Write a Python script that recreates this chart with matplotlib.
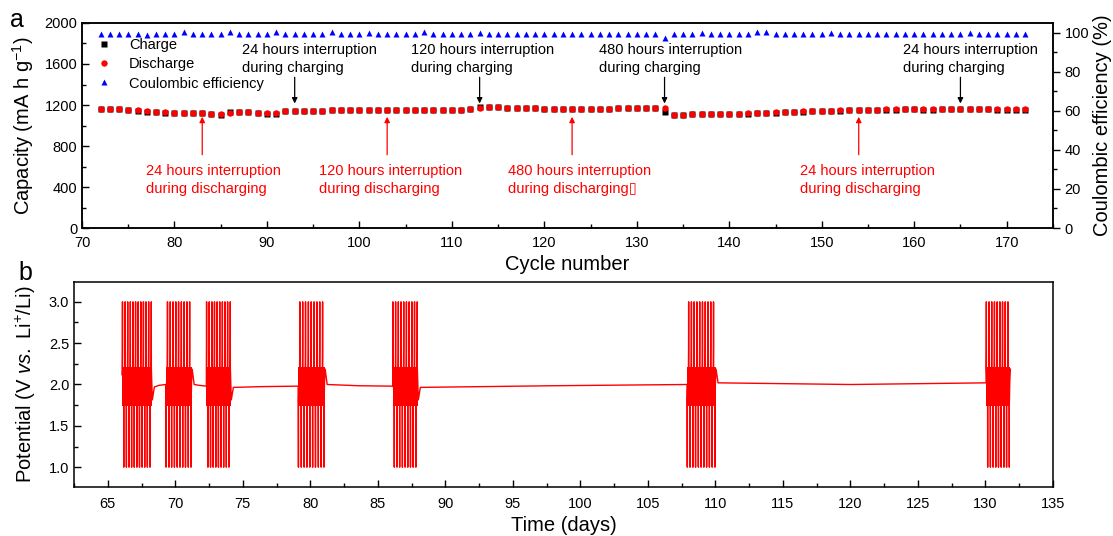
import numpy as np
import matplotlib
matplotlib.use('Agg')
import matplotlib.pyplot as plt
from matplotlib.ticker import MultipleLocator, FormatStrFormatter
from matplotlib.patches import Rectangle

plt.rcParams['font.family'] = ['Liberation Sans', 'DejaVu Sans']
plt.rcParams['mathtext.fontset'] = 'custom'
plt.rcParams['mathtext.rm'] = 'Liberation Sans'
plt.rcParams['mathtext.it'] = 'Liberation Sans:italic'

# ---------------- panel a data ----------------
cycles = np.arange(72, 173)
discharge = [1160, 1165, 1162, 1150, 1148, 1138, 1135, 1128, 1122, 1122, 1122, 1122, 1112, 1108,
             1125, 1132, 1130, 1125, 1118, 1118, 1140,
             1140, 1140, 1142, 1145, 1150, 1150, 1150, 1152, 1152, 1152,
             1150, 1150, 1150, 1152, 1152, 1150, 1152, 1152, 1155, 1160,
             1175, 1178, 1178, 1175, 1172, 1168, 1168, 1165, 1165, 1165,
             1162, 1162, 1162, 1165, 1165, 1168, 1168, 1168, 1170, 1172, 1168,
             1105, 1105, 1110, 1112, 1112, 1115, 1112, 1115, 1118,
             1122, 1125, 1128, 1130, 1135, 1138, 1140, 1142, 1145, 1148,
             1150, 1150, 1152, 1155, 1158, 1160, 1162, 1162, 1158, 1158,
             1160, 1162, 1165, 1162, 1160, 1160, 1158, 1158, 1158, 1158]
charge = [1158, 1163, 1160, 1148, 1146, 1130, 1133, 1126, 1120, 1120, 1120, 1120, 1110, 1106,
          1130, 1130, 1128, 1123, 1116, 1116, 1138,
          1138, 1138, 1140, 1143, 1148, 1148, 1148, 1150, 1150, 1150,
          1148, 1148, 1148, 1150, 1150, 1148, 1150, 1150, 1153, 1158,
          1182, 1176, 1176, 1173, 1170, 1166, 1166, 1163, 1163, 1163,
          1160, 1160, 1160, 1163, 1163, 1166, 1166, 1166, 1168, 1170, 1130,
          1103, 1103, 1108, 1110, 1110, 1113, 1110, 1113, 1116,
          1120, 1123, 1126, 1128, 1133, 1136, 1138, 1140, 1143, 1146,
          1148, 1148, 1150, 1153, 1156, 1150, 1160, 1160, 1156, 1156,
          1158, 1160, 1163, 1160, 1158, 1158, 1156, 1156, 1156, 1156]
coulombic = [99.3, 99.6, 99.5, 99.6, 99.6, 99.1, 99.5, 99.6, 99.5, 100.2, 99.6, 99.6, 99.5, 99.6,
             100.2, 99.6, 99.6, 99.6, 99.5, 100.2, 99.6,
             99.6, 99.6, 99.6, 99.6, 100.2, 99.6, 99.6, 99.5, 100.1, 99.6,
             99.3, 99.6, 99.6, 99.6, 100.2, 99.6, 99.6, 99.6, 99.3, 99.6,
             100.1, 99.6, 99.6, 99.6, 99.6, 99.3, 99.6, 99.6, 99.6, 99.6,
             99.6, 99.6, 99.6, 99.6, 99.6, 99.6, 99.6, 99.6, 99.6, 99.6, 97.4,
             99.2, 99.6, 99.6, 100.0, 99.6, 99.6, 99.6, 99.6, 99.6,
             100.2, 100.4, 99.3, 99.6, 99.6, 99.6, 99.6, 99.6, 100.1, 99.6,
             99.6, 99.6, 99.6, 99.6, 99.6, 99.6, 99.6, 99.6, 99.6, 99.6,
             99.2, 99.6, 99.6, 100.1, 99.6, 99.6, 99.6, 99.6, 99.6, 99.6]

charge_notes = ["24 hours interruption\nduring charging", "120 hours interruption\nduring charging",
                "480 hours interruption\nduring charging", "24 hours interruption\nduring charging"]
charge_note_cycle = [93, 113, 133, 165]
charge_note_textx = [87.3, 105.6, 125.9, 158.8]
discharge_notes = ["24 hours interruption\nduring discharging", "120 hours interruption\nduring discharging",
                   "480 hours interruption\nduring discharging\u25af", "24 hours interruption\nduring discharging"]
discharge_note_cycle = [83, 103, 123, 154]
discharge_note_textx = [76.9, 95.6, 116.1, 147.7]

# ---------------- panel b data ----------------
# one charge/discharge cycle (fraction of cycle, volts)
shape_phase = [0.00, 0.01, 0.20, 0.42, 0.47, 0.50, 0.53, 0.75, 0.97, 1.00]
shape_volt = [1.00, 1.75, 2.05, 2.20, 2.45, 3.00, 2.20, 1.95, 1.75, 1.00]
# cycling blocks (days) and the cycle phase where each starts / stops
block_start = [66.05, 69.30, 72.30, 79.10, 86.10, 107.90, 130.05]
block_end = [68.30, 71.25, 74.15, 81.10, 88.00, 110.05, 131.85]
block_phase0 = [0.3, 0.9, 0.4, 0.9, 0.4, 0.9, 0.4]
block_phase1 = [11.9, 10.4, 9.9, 10.4, 9.9, 11.4, 9.4]
# open-circuit rest between blocks (start, middle, end volts)
rest_volt = [[1.97, 1.99, 2.00], [2.00, 1.99, 1.98], [1.965, 1.975, 1.98],
             [2.00, 1.985, 1.98], [1.965, 1.985, 2.00], [2.02, 2.00, 2.02]]


def block_trace(i):
    p0, p1 = block_phase0[i], block_phase1[i]
    ph = [p0]
    for k in range(int(np.floor(p0)), int(np.ceil(p1)) + 1):
        for s in shape_phase:
            if p0 < k + s < p1:
                ph.append(k + s)
    ph.append(p1)
    ph = np.array(ph)
    frac = ph - np.floor(ph)
    v = np.interp(frac, shape_phase, shape_volt)
    t = block_start[i] + (ph - p0) / (p1 - p0) * (block_end[i] - block_start[i])
    return t, v


def build_potential():
    t_all, v_all = [], []
    for i in range(len(block_start)):
        t, v = block_trace(i)
        t_all.extend(t)
        v_all.extend(v)
        if i < len(rest_volt):
            t0 = block_end[i]
            t1 = block_start[i + 1]
            t_all.extend([t0 + 0.15, (t0 + t1) / 2, t1])
            v_all.extend(rest_volt[i])
    return np.array(t_all), np.array(v_all)


fig = plt.figure(figsize=(11.13, 5.36), dpi=100)

# ---------------- panel a ----------------
ax = fig.add_axes([0.0737, 0.5746, 0.8723, 0.3825])
ax2 = ax.twinx()
ax2.plot(cycles, coulombic, '^', color='#0000ff', ms=4.0, mec='none', label='Coulombic efficiency')
ax.plot(cycles, charge, 's', color='k', ms=4, mec='none', label='Charge', zorder=3)
ax.plot(cycles, discharge, 'o', color='#ff0000', ms=4.6, mec='none', label='Discharge', zorder=4)
ax.set_zorder(ax2.get_zorder() + 1)
ax.patch.set_visible(False)

ax.set_xlim(70, 175)
ax.set_ylim(0, 2000)
ax2.set_ylim(0, 105)
ax.xaxis.set_major_locator(MultipleLocator(10))
ax.xaxis.set_minor_locator(MultipleLocator(5))
ax.yaxis.set_major_locator(MultipleLocator(400))
ax.yaxis.set_minor_locator(MultipleLocator(200))
ax2.yaxis.set_major_locator(MultipleLocator(20))
ax2.yaxis.set_minor_locator(MultipleLocator(10))
ax.tick_params(which='both', direction='in', top=False, right=False, labelsize=10.5, width=1)
ax.tick_params(which='major', length=5)
ax.tick_params(which='minor', length=3)
ax.tick_params(axis='x', pad=6)
ax2.tick_params(which='both', direction='out', labelsize=10.5, width=1)
ax2.tick_params(which='major', length=5)
ax2.tick_params(which='minor', length=3)
ax.set_xlabel('Cycle number', fontsize=14.5, labelpad=3)
ax.set_ylabel('Capacity (mA h g$^{-1}$)', fontsize=14.5, labelpad=6)
ax2.set_ylabel('Coulombic efficiency (%)', fontsize=14.5, labelpad=3)
for a in (ax, ax2):
    for sp in a.spines.values():
        sp.set_linewidth(1.1)

h1, l1 = ax.get_legend_handles_labels()
h2, l2 = ax2.get_legend_handles_labels()
ax.legend(h1 + h2, l1 + l2, loc='upper left', bbox_to_anchor=(0.005, 0.975), frameon=False,
          fontsize=10.5, handlelength=1.0, handletextpad=1.2, labelspacing=0.35, borderaxespad=0.3)

for txt, c, tx in zip(charge_notes, charge_note_cycle, charge_note_textx):
    ax.text(tx, 1650, txt, color='k', fontsize=10.5, ha='left', va='center', linespacing=1.4)
    ax.annotate('', xy=(c, 1215), xytext=(c, 1470),
                arrowprops=dict(arrowstyle='-|>', color='k', lw=0.9, mutation_scale=8,
                                shrinkA=0, shrinkB=0))
for txt, c, tx in zip(discharge_notes, discharge_note_cycle, discharge_note_textx):
    ax.text(tx, 470, txt, color='#ff0000', fontsize=10.5, ha='left', va='center', linespacing=1.4)
    ax.annotate('', xy=(c, 1085), xytext=(c, 715),
                arrowprops=dict(arrowstyle='-|>', color='#ff0000', lw=0.9, mutation_scale=8,
                                shrinkA=0, shrinkB=0))

# ---------------- panel b ----------------
bx = fig.add_axes([0.0665, 0.0914, 0.8795, 0.3825])
t, v = build_potential()
bx.plot(t, v, '-', color='#ff0000', lw=1.0)
# plateau region of each cycling block is drawn densely in the original trace
for i in range(len(block_start)):
    tb, vb = block_trace(i)
    band, = bx.plot(tb, vb, '-', color='#ff0000', lw=2.4)
    band.set_clip_path(Rectangle((block_start[i], 1.74), block_end[i] - block_start[i], 0.47,
                                 transform=bx.transData))
bx.set_xlim(62.5, 135)
bx.set_ylim(0.76, 3.24)
bx.xaxis.set_major_locator(MultipleLocator(5))
bx.xaxis.set_minor_locator(MultipleLocator(2.5))
bx.yaxis.set_major_locator(MultipleLocator(0.5))
bx.yaxis.set_minor_locator(MultipleLocator(0.25))
bx.yaxis.set_major_formatter(FormatStrFormatter('%.1f'))
bx.tick_params(which='both', direction='in', top=False, right=False, labelsize=10.5, width=1)
bx.tick_params(which='major', length=5)
bx.tick_params(which='minor', length=3)
bx.tick_params(axis='x', pad=7)
bx.set_xlabel('Time (days)', fontsize=14.5, labelpad=4)
bx.set_ylabel('Potential (V $\\mathit{vs.}$ Li$^{+}$/Li)', fontsize=14.5, labelpad=8)
for sp in bx.spines.values():
    sp.set_linewidth(1.1)

fig.text(0.0153, 0.962, 'a', fontsize=18, ha='center', va='center')
fig.text(0.0225, 0.49, 'b', fontsize=18, ha='center', va='center')

fig.savefig('out.png', dpi=100)
